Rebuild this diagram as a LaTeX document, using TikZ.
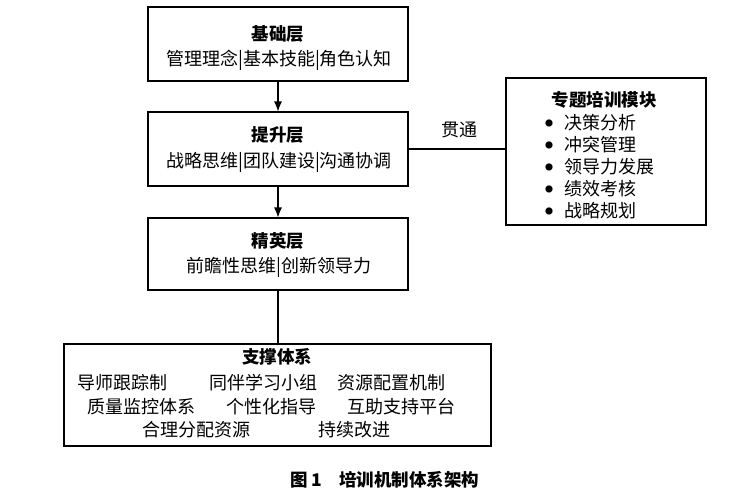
\documentclass[tikz,border=0pt]{standalone}
\usepackage{fontspec}
\setmainfont{Noto Sans CJK SC}
\usetikzlibrary{arrows.meta}
\begin{document}
\begin{tikzpicture}[x=1pt,y=-1pt,
  box/.style={draw=black,line width=1.1pt,rectangle,inner sep=0pt},
  txt/.style={font=\fontsize{18}{20}\selectfont,inner sep=0pt,anchor=center},
  ttl/.style={font=\fontsize{17.5}{20}\selectfont\bfseries,inner sep=0pt,anchor=center},
  conn/.style={line width=1.1pt},
  arr/.style={line width=1.1pt,-{Latex[length=10pt,width=8pt]}}]
\useasboundingbox (0,0) rectangle (746,498);
% boxes
\node[box,minimum width=260pt,minimum height=74pt] (b1) at (278,44) {};
\node[box,minimum width=260pt,minimum height=74pt] (b2) at (278,149) {};
\node[box,minimum width=260pt,minimum height=72pt] (b3) at (278,254) {};
\node[box,minimum width=200pt,minimum height=147pt] (b4) at (606,151.5) {};
\node[box,minimum width=427pt,minimum height=102pt] (b5) at (277.5,395) {};
% texts box1
\node[ttl] (t1) at (278,34) {基础层};
\node[txt] (l1) at (279,60) {管理理念|基本技能|角色认知};
% box2
\node[ttl] (t2) at (278,135) {提升层};
\node[txt] (l2) at (279,162) {战略思维|团队建设|沟通协调};
% box3
\node[ttl] (t3) at (278,241) {精英层};
\node[txt] (l3) at (279,267) {前瞻性思维|创新领导力};
% box4
\node[ttl] (t4) at (604,100) {专题培训模块};
\foreach \i/\s in {0/决策分析,1/冲突管理,2/领导力发展,3/绩效考核,4/战略规划}{
  \node[inner sep=0pt,font=\fontsize{8}{8}\selectfont] (d\i) at (549,{123+22*\i}) {●};
  \node[txt,anchor=west] (m\i) at (564,{123+22*\i}) {\s};
}
% box5
\node[ttl] (t5) at (277,357) {支撑体系};
\node[txt] (s1) at (122,383) {导师跟踪制};
\node[txt] (s2) at (263,383) {同伴学习小组};
\node[txt] (s3) at (391,383) {资源配置机制};
\node[txt] (s4) at (141,407) {质量监控体系};
\node[txt] (s5) at (271,407) {个性化指导};
\node[txt] (s6) at (401,407) {互助支持平台};
\node[txt] (s7) at (196,430) {合理分配资源};
\node[txt] (s8) at (354,430) {持续改进};
% connectors
\draw[arr] (b1.south) -- (b2.north);
\draw[arr] (b2.south) -- (b3.north);
\draw[conn] (b3.south) -- (b3.south |- b5.north);
\draw[conn] (b2.east) -- (b2.east -| b4.west);
\node[txt] (gt) at (459,130) {贯通};
% caption
\node[inner sep=0pt,font=\fontsize{17.5}{20}\selectfont\bfseries] (cap) at (385,480) {图\,1\quad 培训机制体系架构};
\end{tikzpicture}
\end{document}
